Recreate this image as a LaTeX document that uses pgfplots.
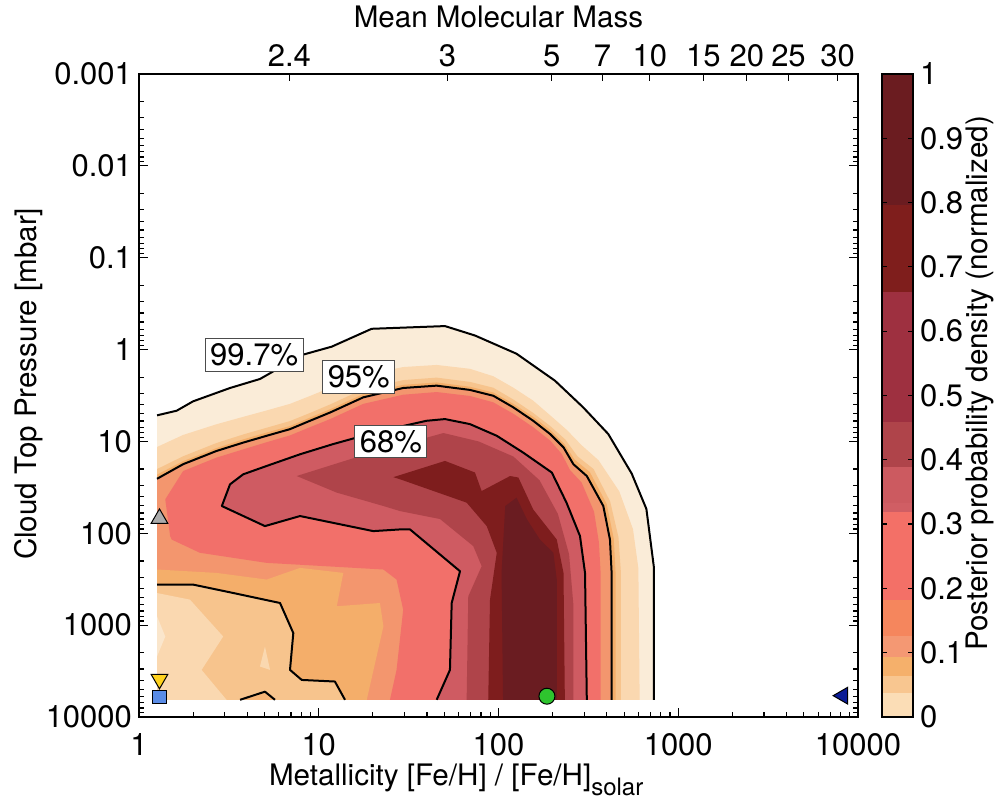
\documentclass[border=0pt]{standalone}
\usepackage{pgfplots}
\pgfplotsset{compat=1.18}
\usepackage{fontspec}
\setmainfont{TeX Gyre Heros}
\setsansfont{TeX Gyre Heros}

\definecolor{cA}{HTML}{FAECD8}
\definecolor{cB}{HTML}{FAD8B0}
\definecolor{cC}{HTML}{F7C48D}
\definecolor{cD}{HTML}{F4AE6A}
\definecolor{cE}{HTML}{F3966E}
\definecolor{cF}{HTML}{F2706A}
\definecolor{cG}{HTML}{CF5B62}
\definecolor{cH}{HTML}{AF444A}
\definecolor{cI}{HTML}{7E1D1D}
\definecolor{cJ}{HTML}{6A1C21}
\definecolor{cLeft}{HTML}{FAE6CC}
\definecolor{cBump}{HTML}{F6B577}
% colorbar
\definecolor{k1}{HTML}{FBDDB6}
\definecolor{k2}{HTML}{F8C690}
\definecolor{k3}{HTML}{F5B06B}
\definecolor{k4}{HTML}{F49873}
\definecolor{k5}{HTML}{F5865D}
\definecolor{k6}{HTML}{F37067}
\definecolor{k7}{HTML}{D05E64}
\definecolor{k8}{HTML}{CC5A60}
\definecolor{k9}{HTML}{AF444A}
\definecolor{k10}{HTML}{9E3040}
\definecolor{k11}{HTML}{7F1E1C}
\definecolor{k12}{HTML}{6B1C20}
\definecolor{mBlue}{HTML}{5A8CE6}
\definecolor{mYellow}{HTML}{FFD21E}
\definecolor{mGreen}{HTML}{2EC42E}
\definecolor{mNavy}{HTML}{0B1C96}
\definecolor{mGray}{HTML}{ABABAB}

\begin{document}
\begin{tikzpicture}
\pgfplotsset{
  every axis/.append style={font=\fontsize{15.5}{18}\selectfont},
  every axis label/.append style={font=\fontsize{14.8}{17}\selectfont},
  /pgf/number format/assume math mode=true,
  every tick/.style={black, line width=0.6pt},
}
% ---------------- main axis ----------------
\begin{axis}[
  at={(0pt,0pt)}, anchor=south west,
  width=359.5pt, height=321.5pt, scale only axis,
  xmode=log, ymode=log, y dir=reverse,
  xmin=1, xmax=10000, ymin=0.001, ymax=10000,
  axis on top,
  axis line style={line width=0.9pt},
  xtick pos=bottom, ytick pos=both,
  tick align=inside,
  major tick length=4.5pt, minor tick length=2.5pt,
  xtick={1,10,100,1000,10000},
  xticklabels={1,10,100,1000,10000},
  ytick={0.001,0.01,0.1,1,10,100,1000,10000},
  yticklabels={0.001,0.01,0.1,1,10,100,1000,10000},
  xticklabel style={anchor=base, yshift=-19pt},
  xlabel={Metallicity [Fe/H] / [Fe/H]{\raisebox{-0.35em}{\fontsize{12}{14}\selectfont solar}}},
  xlabel style={at={(axis description cs:0.171,0)}, anchor=base west, yshift=-34pt},
  ylabel={Cloud Top Pressure [mbar]},
  ylabel style={at={(axis description cs:-0.154,0.518)}, anchor=center},
  clip=true,
]
% 99.7% region (cream)
\addplot[fill=cA, draw=none] coordinates {
 (1.26,5.2) (1.62,4.63) (2.00,3.66) (3.21,2.62) (4.71,2.09) (5.36,1.81) (7.87,1.16)
 (11.8,0.93) (19.7,0.594) (50.4,0.555) (74.0,0.703) (126,1.11) (206,2.18) (296,4.26)
 (408,8.3) (551,22.4) (665,54.3) (733,238) (733,6500) (1.26,6500)};
% peach band
\addplot[fill=cB, draw=none] coordinates {
 (1.26,11.5) (1.76,8.5) (2.70,6.5) (3.80,5.4) (5.13,4.6) (6.92,3.9) (8.94,3.2) (11.6,2.6)
 (17.7,1.9) (29.5,1.55) (45.3,1.47) (69.4,1.62) (93.5,1.95) (121,2.6) (156,3.6) (194,5.2)
 (240,7.5) (290,11) (360,16) (470,35) (560,90) (600,240) (610,6500) (1.26,6500)};
% light orange band
\addplot[fill=cC, draw=none] coordinates {
 (1.26,20) (1.76,14.5) (2.70,10.4) (3.80,8.4) (5.13,7.1) (6.92,6.0) (8.94,4.9) (11.6,3.95)
 (17.7,2.7) (29.5,2.15) (45.3,2.02) (69.4,2.25) (93.5,2.6) (121,3.5) (156,4.9) (194,6.8)
 (235,9.5) (275,14.5) (338,20) (418,45) (465,110) (480,270) (480,6500) (1.26,6500)};
% orange band
\addplot[fill=cD, draw=none] coordinates {
 (1.26,23) (1.76,16.4) (2.70,11.8) (3.80,9.5) (5.13,8.0) (6.92,6.8) (8.94,5.5) (11.6,4.45)
 (17.7,3.05) (29.5,2.42) (45.3,2.28) (69.4,2.54) (93.5,2.93) (121,3.9) (156,5.4) (194,7.5)
 (232,10.6) (265,15.8) (322,21.5) (400,48) (438,115) (448,270) (448,6500) (1.26,6500)};
% 95% region (salmon)
\addplot[fill=cE, draw=none] coordinates {
 (1.26,25.5) (1.76,17.7) (2.70,12.7) (3.80,10.3) (5.13,8.68) (6.92,7.35) (8.94,5.96) (11.6,4.83)
 (17.7,3.31) (29.5,2.62) (45.3,2.47) (69.4,2.75) (93.5,3.18) (121,4.26) (156,5.96) (194,8.32)
 (230,11.6) (261,17.7) (310,23.8) (383,50.5) (417,117) (426,270) (426,6500)
 (14.0,6500) (12.3,4110) (8.04,3950) (6.92,3070) (7.22,1220) (6.09,574) (3.35,447) (2.0,362) (1.26,362)};
% red region
\addplot[fill=cF, draw=none] coordinates {
 (1.40,42.7) (1.76,21) (2.70,15) (3.80,12.2) (5.13,10.2) (6.92,8.6) (8.94,7.0) (11.6,5.7)
 (17.7,3.9) (29.5,3.1) (45.3,2.9) (69.4,3.2) (93.5,3.75) (121,5.0) (156,7.0) (194,9.8)
 (225,13.7) (250,20.5) (290,28) (340,58) (362,125) (370,270) (370,6500)
 (24.9,6500) (27.1,3070) (29.5,679) (27.1,319) (22.9,248) (7.54,219) (5.13,210) (2.18,163)
 (1.52,117) (1.49,107)};
% orange patch lower left
\addplot[fill=cD, draw=none] coordinates {
 (1.26,248) (2.70,270) (5.13,319) (7.87,238) (13.7,270) (12.6,623) (21.9,574) (22.9,1030)
 (18.5,6500) (1.26,6500)};
% outside 95% lower left
\addplot[fill=cC, draw=none] coordinates {
 (1.26,362) (2.0,362) (3.35,447) (6.09,574) (7.22,1220) (6.92,3070) (8.04,3950) (12.3,4110)
 (14.0,6500) (1.26,6500)};
\addplot[fill=cB, draw=none] coordinates {
 (1.26,447) (1.92,527) (2.94,1330) (2.23,3070) (3.07,6500) (1.26,6500)};
\addplot[fill=cLeft, draw=none] coordinates {(1.26,801) (1.40,1330) (1.26,2190)};
\addplot[fill=cB, draw=none] coordinates {(4.71,2820) (5.02,1710) (5.36,3070)};
\addplot[fill=cBump, draw=none] coordinates {(3.65,6500) (5.02,5300) (5.71,6500)};
% 68% region
\addplot[fill=cG, draw=none] coordinates {
 (2.89,50.5) (3.21,29.3) (3.80,22.8) (5.13,18.5) (7.87,13.8) (12.0,10.7) (16.3,9.06) (25,7.3)
 (39.8,5.96) (50.4,5.71) (69.4,6.48) (97.8,8.68) (137,13.2) (198,21.8) (239,46.4) (284,107)
 (303,270) (310,6500) (45.3,6500) (53.7,3070) (54.9,574) (61.1,259) (32.2,90.8) (28.3,90.8)
 (20.1,94.7) (7.87,64.9) (5.02,83.5)};
\addplot[fill=cH, draw=none] coordinates {
 (7.54,23.8) (16.7,14.6) (49.4,8.1) (77.5,10) (121,14.6) (169,26.4) (214,61.5) (247,169)
 (261,600) (261,6500) (66.5,6500) (67.9,485) (80.6,228) (72.4,138) (47.3,70) (28.3,57.3)
 (22.9,50.5) (12.6,36.1)};
\addplot[fill=cI, draw=none] coordinates {
 (26,24.5) (50.4,16.3) (74.0,21.8) (80.6,34.7) (116,23.8) (129,24.7) (156,55) (211,117)
 (230,270) (234,6500) (87.7,6500) (89.7,527) (97.8,163) (86,83.5) (66.5,46.4) (28.3,25.8)};
\addplot[fill=cJ, draw=none] coordinates {
 (126,41) (144,70.6) (170,117) (202,163) (211,319) (211,6500) (106,6500) (104,270) (109,50.5)};
% contour lines
\addplot[black, line width=1pt, line join=round] coordinates {
 (1.26,5.2) (1.62,4.63) (2.00,3.66) (3.21,2.62) (4.71,2.09) (5.36,1.81) (7.87,1.16)
 (11.8,0.93) (19.7,0.594) (50.4,0.555) (74.0,0.703) (126,1.11) (206,2.18) (296,4.26)
 (408,8.3) (551,22.4) (665,54.3) (733,238) (733,6500)};
\addplot[black, line width=1pt, line join=round] coordinates {
 (1.26,25.5) (1.76,17.7) (2.70,12.7) (3.80,10.3) (5.13,8.68) (6.92,7.35) (8.94,5.96) (11.6,4.83)
 (17.7,3.31) (29.5,2.62) (45.3,2.47) (69.4,2.75) (93.5,3.18) (121,4.26) (156,5.96) (194,8.32)
 (230,11.6) (261,17.7) (310,23.8) (383,50.5) (417,117) (426,270) (426,6500)};
\addplot[black, line width=1pt, line join=round] coordinates {
 (1.26,362) (2.0,362) (3.35,447) (6.09,574) (7.22,1220) (6.92,3070) (8.04,3950) (12.3,4110) (14.0,6500)};
\addplot[black, line width=1pt, line join=round] coordinates {
 (45.3,6500) (53.7,3070) (54.9,574) (61.1,259) (32.2,90.8) (28.3,90.8) (20.1,94.7) (7.87,64.9)
 (5.02,83.5) (2.89,50.5) (3.21,29.3) (3.80,22.8) (5.13,18.5) (7.87,13.8) (12.0,10.7) (16.3,9.06)
 (25,7.3) (39.8,5.96) (50.4,5.71) (69.4,6.48) (97.8,8.68) (137,13.2) (198,21.8) (239,46.4)
 (284,107) (303,270) (310,6500)};
\addplot[black, line width=1pt, line join=round] coordinates {(3.65,6500) (5.02,5300) (5.71,6500)};
% labels
\node[fill=white, draw=black!70, line width=0.5pt, inner sep=2.5pt] at (axis cs:4.37,1.14) {99.7\%};
\node[fill=white, draw=black!70, line width=0.5pt, inner sep=2.5pt] at (axis cs:16.7,1.99) {95\%};
\node[fill=white, draw=black!70, line width=0.5pt, inner sep=2.5pt] at (axis cs:25.2,10.05) {68\%};
% markers
\addplot[only marks, mark=triangle*, mark size=4.8pt, mark options={fill=mGray, draw=black, line width=0.5pt}] coordinates {(1.30,69)};
\addplot[only marks, mark=triangle*, mark size=4.8pt, mark options={rotate=180, fill=mYellow, draw=black, line width=0.5pt}] coordinates {(1.30,3880)};
\addplot[only marks, mark=square*, mark size=3.3pt, mark options={fill=mBlue, draw=black, line width=0.5pt}] coordinates {(1.30,6050)};
\addplot[only marks, mark=*, mark size=4pt, mark options={fill=mGreen, draw=black, line width=0.5pt}] coordinates {(186,5940)};
\addplot[only marks, mark=triangle*, mark size=4.8pt, mark options={rotate=90, fill=mNavy, draw=black, line width=0.5pt}] coordinates {(8230,5860)};
\end{axis}
% ---------------- top axis (mean molecular mass) ----------------
\begin{axis}[
  at={(0pt,0pt)}, anchor=south west,
  width=359.5pt, height=321.5pt, scale only axis,
  xmode=log, xmin=1, xmax=10000, ymin=0, ymax=1,
  axis x line*=top, hide y axis,
  x axis line style={-, line width=0.9pt},
  xticklabel pos=upper,
  tick align=inside, major tick length=3.5pt,
  xminorticks=false,
  xtick={6.87,52,198,379,695,1378,2408,4105,7705},
  xticklabels={2.4,3,5,7,10,15,20,25,30},
  xticklabel style={anchor=base, yshift=3.5pt},
  xlabel={Mean Molecular Mass},
  xlabel style={at={(axis description cs:0.5,1)}, anchor=base, yshift=23pt},
]
\addplot[draw=none] coordinates {(1,0.5)};
\end{axis}
% ---------------- colorbar ----------------
\begin{axis}[
  at={(371.5pt,0pt)}, anchor=south west,
  width=15.5pt, height=321.5pt, scale only axis,
  xmin=0, xmax=1, ymin=0, ymax=1,
  axis on top,
  axis line style={line width=0.9pt},
  xtick=\empty,
  ytick={0,0.1,0.2,0.3,0.4,0.5,0.6,0.7,0.8,0.9,1},
  yticklabels={0,0.1,0.2,0.3,0.4,0.5,0.6,0.7,0.8,0.9,1},
  ytick pos=both, yticklabel pos=right,
  tick align=inside, major tick length=2.5pt,
  ylabel={Posterior probability density (normalized)},
  ylabel style={at={(axis description cs:3.16,0.519)}, anchor=center},
]
\addplot[fill=k1, draw=none] coordinates {(0,0) (1,0) (1,0.037) (0,0.037)};
\addplot[fill=k2, draw=none] coordinates {(0,0.037) (1,0.037) (1,0.064) (0,0.064)};
\addplot[fill=k3, draw=none] coordinates {(0,0.064) (1,0.064) (1,0.093) (0,0.093)};
\addplot[fill=k4, draw=none] coordinates {(0,0.093) (1,0.093) (1,0.126) (0,0.126)};
\addplot[fill=k5, draw=none] coordinates {(0,0.126) (1,0.126) (1,0.182) (0,0.182)};
\addplot[fill=k6, draw=none] coordinates {(0,0.182) (1,0.182) (1,0.319) (0,0.319)};
\addplot[fill=k7, draw=none] coordinates {(0,0.319) (1,0.319) (1,0.333) (0,0.333)};
\addplot[fill=k8, draw=none] coordinates {(0,0.333) (1,0.333) (1,0.389) (0,0.389)};
\addplot[fill=k9, draw=none] coordinates {(0,0.389) (1,0.389) (1,0.459) (0,0.459)};
\addplot[fill=k10, draw=none] coordinates {(0,0.459) (1,0.459) (1,0.661) (0,0.661)};
\addplot[fill=k11, draw=none] coordinates {(0,0.661) (1,0.661) (1,0.797) (0,0.797)};
\addplot[fill=k12, draw=none] coordinates {(0,0.797) (1,0.797) (1,1) (0,1)};
\end{axis}
\pgfresetboundingbox
\useasboundingbox (-69.5pt,-43pt) rectangle (429.5pt,358.5pt);
\end{tikzpicture}
\end{document}
